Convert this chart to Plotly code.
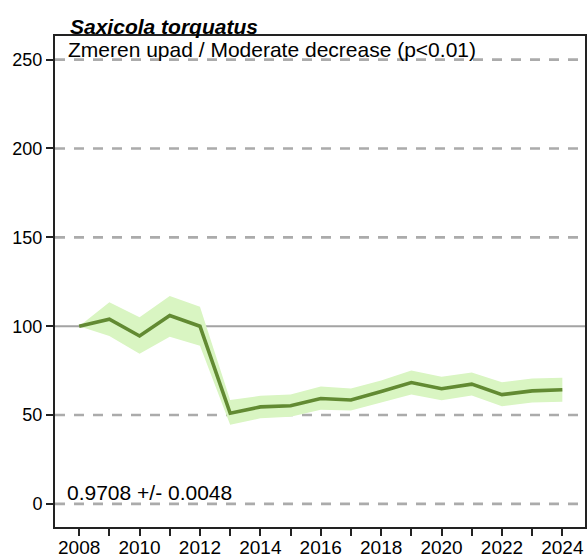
import plotly.graph_objects as go

years = list(range(2008, 2025))
index_vals = [100, 103.9, 94.5, 106.0, 100, 51.0, 54.6, 55.2, 59.3, 58.5, 63.3, 68.3, 64.8, 67.4, 61.5, 63.6, 64.2]
upper_vals = [100, 113.5, 105.0, 117.0, 111.0, 58.5, 60.8, 61.5, 66.0, 65.0, 69.5, 75.0, 71.5, 74.0, 68.5, 70.5, 71.0]
lower_vals = [100, 94.5, 84.5, 94.0, 89.0, 44.5, 48.2, 49.0, 53.0, 52.5, 57.0, 61.5, 58.3, 61.0, 55.0, 57.0, 57.5]

ytick_vals = [0, 50, 100, 150, 200, 250]
xtick_vals = list(range(2008, 2025, 2))
title_text = "Saxicola torquatus"
subtitle_text = "Zmeren upad / Moderate decrease (p<0.01)"
trend_text = "0.9708 +/- 0.0048"

FONT = "Liberation Sans, Arial, sans-serif"
LINE_COL = "#628a32"
BAND_COL = "#d9f5c2"

fig = go.Figure()

fig.add_trace(go.Scatter(x=years, y=lower_vals, mode="lines", line=dict(width=0, color=BAND_COL),
                         hoverinfo="skip", showlegend=False))
fig.add_trace(go.Scatter(x=years, y=upper_vals, mode="lines", line=dict(width=0, color=BAND_COL),
                         fill="tonexty", fillcolor=BAND_COL, hoverinfo="skip", showlegend=False))

shapes = []
for v in ytick_vals:
    if v == 100:
        shapes.append(dict(type="line", xref="paper", yref="y", x0=0, x1=1, y0=v, y1=v,
                           line=dict(color="#a3a3a3", width=2, dash="solid"), layer="below"))
    else:
        shapes.append(dict(type="line", xref="paper", yref="y", x0=0, x1=1, y0=v, y1=v,
                           line=dict(color="#ababab", width=2.6, dash="10px,9px"), layer="below"))

fig.add_trace(go.Scatter(x=years, y=index_vals, mode="lines", line=dict(width=3.6, color=LINE_COL),
                         showlegend=False))

fig.update_layout(
    width=587, height=557,
    margin=dict(l=55, r=2, t=36, b=30),
    paper_bgcolor="white", plot_bgcolor="rgba(0,0,0,0)",
    font=dict(family=FONT, size=16, color="black"),
    shapes=shapes,
    showlegend=False,
    annotations=[
        dict(text="<b><i>" + title_text + "</i></b>", xref="paper", yref="paper", x=0.0245, y=1.0,
             xanchor="left", yanchor="bottom", showarrow=False, yshift=-4,
             font=dict(family=FONT, size=21, color="black")),
        dict(text=subtitle_text, xref="paper", yref="paper", x=0.0215, y=1.0,
             xanchor="left", yanchor="top", showarrow=False, yshift=0,
             font=dict(family=FONT, size=21, color="black")),
        dict(text=trend_text, xref="paper", yref="y", x=0.019, y=0,
             xanchor="left", yanchor="bottom", showarrow=False, yshift=-2,
             font=dict(family=FONT, size=21, color="black")),
    ],
)

fig.update_xaxes(range=[2007.2, 2024.75], tickmode="array", tickvals=years,
                 ticktext=[str(y) if y in xtick_vals else "" for y in years],
                 ticks="outside", ticklen=7, tickwidth=2, tickcolor="#222",
                 showline=True, linecolor="#222", linewidth=2, mirror=True,
                 showgrid=False, zeroline=False, tickfont=dict(size=19), automargin=False,
                 ticklabelstandoff=-5)
fig.update_yaxes(range=[-13.0, 263.3], tickmode="array", tickvals=ytick_vals,
                 ticks="outside", ticklen=7, tickwidth=2, tickcolor="#222",
                 showline=True, linecolor="#222", linewidth=2, mirror=True,
                 showgrid=False, zeroline=False, tickfont=dict(size=18), automargin=False)

fig.write_html("out.html", config={"displayModeBar": False},
               post_script="document.body.style.margin='0';document.body.style.overflow='hidden';")
